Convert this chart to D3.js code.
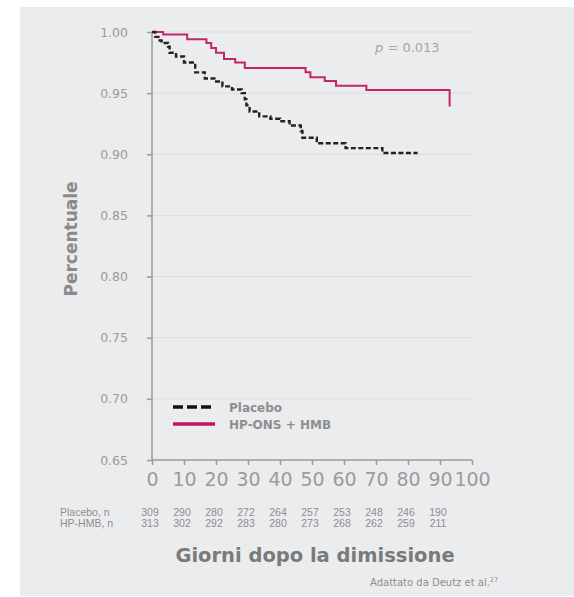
<!DOCTYPE html>
<html>
<head>
<meta charset="utf-8">
<script src="https://cdn.jsdelivr.net/npm/d3@7/dist/d3.min.js"></script>
<style>
  html, body { margin: 0; padding: 0; background: #ffffff; }
  svg { display: block; }
  text { font-family: "DejaVu Sans", sans-serif; }
</style>
</head>
<body>
<svg id="chart" width="574" height="597"></svg>
<script>
// Kaplan-Meier survival estimates (days after discharge, survival proportion)
const placeboDays = [0, 1, 2, 3, 5, 5.5, 7.5, 10, 13.5, 16.5, 19.5, 22, 25, 28, 29, 29.5, 30.5, 33.5, 37, 40, 43, 46.5, 47, 51.5, 60.5, 72, 83];
const placeboSurv = [1.0, 0.996, 0.993, 0.991, 0.988, 0.983, 0.980, 0.975, 0.967, 0.962, 0.9595, 0.9555, 0.953, 0.950, 0.945, 0.940, 0.935, 0.931, 0.929, 0.927, 0.9235, 0.919, 0.9135, 0.909, 0.905, 0.901, 0.901];

const hmbDays = [0, 3.5, 11, 17, 18.5, 20, 22.5, 26, 29, 48, 49.5, 54, 57.5, 67, 93];
const hmbSurv = [1.0, 0.998, 0.994, 0.991, 0.987, 0.983, 0.978, 0.975, 0.9705, 0.967, 0.963, 0.960, 0.956, 0.9525, 0.939];

// Axis ticks
const xTicks = [0, 10, 20, 30, 40, 50, 60, 70, 80, 90, 100];
const yTicks = [0.65, 0.70, 0.75, 0.80, 0.85, 0.90, 0.95, 1.00];

// Number at risk
const riskDays = [0, 10, 20, 30, 40, 50, 60, 70, 80, 90];
const placeboAtRisk = [309, 290, 280, 272, 264, 257, 253, 248, 246, 190];
const hmbAtRisk = [313, 302, 292, 283, 280, 273, 268, 262, 259, 211];

const seriesNames = ["Placebo", "HP-ONS + HMB"];
const magenta = "#c4246b";
const textGray = "#9b9b9b";

const svg = d3.select("#chart");

// Panel background
svg.append("rect")
  .attr("x", 20).attr("y", 7)
  .attr("width", 554).attr("height", 589)
  .attr("fill", "#ebecee");

const x = d3.scaleLinear().domain([0, 100]).range([152, 472]);
const y = d3.scaleLinear().domain([0.65, 1.0]).range([460, 32]);

// Horizontal gridlines
svg.append("g")
  .selectAll("line")
  .data(yTicks.filter(d => d > 0.65))
  .join("line")
  .attr("x1", x(0)).attr("x2", x(100) + 2)
  .attr("y1", d => y(d)).attr("y2", d => y(d))
  .attr("stroke", "#dcdde0")
  .attr("stroke-width", 1);

// Y axis
const yAxis = svg.append("g")
  .attr("transform", `translate(${x(0)},0)`)
  .call(d3.axisLeft(y).tickValues(yTicks).tickFormat(d3.format(".2f")).tickSize(5).tickPadding(19));
yAxis.select(".domain").attr("stroke", "#9a9a9a").attr("stroke-width", 1.5).attr("d", `M0,${y(1.0)}V${y(0.65)}`);
yAxis.selectAll(".tick line").attr("stroke", "#9a9a9a").attr("stroke-width", 1.5);
yAxis.selectAll(".tick text")
  .attr("fill", textGray)
  .style("font-size", "12.5px")
  .style("font-family", "'DejaVu Sans', sans-serif");

// X axis
const xAxis = svg.append("g")
  .attr("transform", `translate(0,${y(0.65)})`)
  .call(d3.axisBottom(x).tickValues(xTicks).tickSize(5).tickPadding(8));
xAxis.select(".domain").attr("stroke", "#9a9a9a").attr("stroke-width", 1.5).attr("d", `M${x(0)},0H${x(100)}`);
xAxis.selectAll(".tick line").attr("stroke", "#9a9a9a").attr("stroke-width", 1.5);
xAxis.selectAll(".tick text")
  .attr("fill", textGray)
  .style("font-size", "19px")
  .style("font-family", "'DejaVu Sans', sans-serif");

// Survival curves
const line = d3.line()
  .x(d => x(d[0]))
  .y(d => y(d[1]))
  .curve(d3.curveStepAfter);

const placeboData = placeboDays.map((d, i) => [d, placeboSurv[i]]);
const hmbData = hmbDays.map((d, i) => [d, hmbSurv[i]]);

svg.append("path")
  .datum(hmbData)
  .attr("d", line)
  .attr("fill", "none")
  .attr("stroke", magenta)
  .attr("stroke-width", 2);

svg.append("path")
  .datum(placeboData)
  .attr("d", line)
  .attr("fill", "none")
  .attr("stroke", "#222222")
  .attr("stroke-width", 2.4)
  .attr("stroke-dasharray", "5,2.5");

// p value
const pText = svg.append("text")
  .attr("x", 375).attr("y", 52)
  .attr("fill", "#a5a5a5")
  .style("font-size", "13px");
pText.append("tspan").style("font-style", "italic").text("p");
pText.append("tspan").text(" = 0.013");

// Legend
const legend = svg.append("g");
const legendRows = [
  { name: seriesNames[0], stroke: "#111111", dash: "10,4", yy: 407 },
  { name: seriesNames[1], stroke: "#c0155f", dash: null, yy: 424 }
];
legendRows.forEach(r => {
  legend.append("line")
    .attr("x1", 173).attr("x2", 215)
    .attr("y1", r.yy).attr("y2", r.yy)
    .attr("stroke", r.stroke)
    .attr("stroke-width", 3.5)
    .attr("stroke-dasharray", r.dash);
  legend.append("text")
    .attr("x", 229).attr("y", r.yy + 4.5)
    .attr("fill", "#8e8e8e")
    .style("font-size", "12px")
    .style("font-weight", "bold")
    .text(r.name);
});

// Y axis title
svg.append("text")
  .attr("transform", `translate(77,239) rotate(-90)`)
  .attr("text-anchor", "middle")
  .attr("fill", "#8a8a8a")
  .style("font-size", "17px")
  .style("font-weight", "bold")
  .text("Percentuale");

// Number-at-risk table
const riskRows = [
  { label: "Placebo, n", values: placeboAtRisk, yy: 516 },
  { label: "HP-HMB, n", values: hmbAtRisk, yy: 527 }
];
riskRows.forEach(r => {
  svg.append("text")
    .attr("x", 60).attr("y", r.yy)
    .attr("fill", "#8e8e8e")
    .style("font-size", "10.5px")
    .style("font-family", "'Liberation Sans', sans-serif")
    .text(r.label);
  svg.append("g")
    .selectAll("text")
    .data(riskDays)
    .join("text")
    .attr("x", d => x(d) - 2)
    .attr("y", r.yy)
    .attr("text-anchor", "middle")
    .attr("fill", "#8e8e8e")
    .style("font-size", "10.5px")
    .style("font-family", "'Liberation Sans', sans-serif")
    .text((d, i) => r.values[i]);
});

// X axis title
svg.append("text")
  .attr("x", 315).attr("y", 562)
  .attr("text-anchor", "middle")
  .attr("fill", "#7a7a7a")
  .style("font-size", "19.5px")
  .style("font-weight", "bold")
  .text("Giorni dopo la dimissione");

// Source note
const src = svg.append("text")
  .attr("x", 370).attr("y", 586)
  .attr("fill", "#8e8e8e")
  .style("font-size", "10px");
src.append("tspan").text("Adattato da Deutz et al.");
src.append("tspan").attr("dy", -4).style("font-size", "6.5px").text("27");
</script>
</body>
</html>
